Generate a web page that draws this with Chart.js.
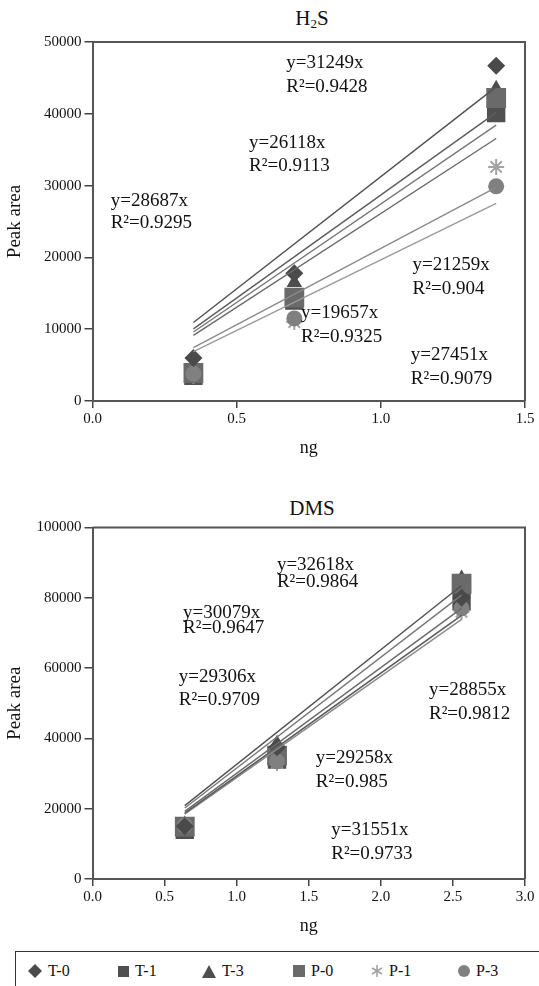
<!DOCTYPE html>
<html>
<head>
<meta charset="utf-8">
<script src="https://cdn.jsdelivr.net/npm/chart.js@4.4.0/dist/chart.umd.min.js"></script>
<style>
  body { margin: 0; background: #fff; width: 539px; height: 986px; position: relative; overflow: hidden; font-family: 'Liberation Serif', 'Times New Roman', serif; color: #111; }
  .panel { position: absolute; left: 0; }
  .ptitle { position: absolute; left: 252px; width: 120px; text-align: center; font-size: 21px; line-height: 24px; }
  .ptitle sub { font-size: 13px; vertical-align: -3px; line-height: 0; }
  .legend { position: absolute; left: 15px; top: 951px; width: 540px; height: 40px; border-top: 1.5px solid #333; border-left: 1.5px solid #333; }
  .lg-item { position: absolute; top: 8px; height: 22px; display: flex; align-items: center; font-size: 16px; }
  .lg-item svg { margin-right: 6px; }
</style>
</head>
<body>

<div class="ptitle" style="top:6px">H<sub>2</sub>S</div>
<div class="panel" style="top:0"><canvas id="h2s-chart" width="539" height="461"></canvas></div>

<div class="ptitle" style="top:496px">DMS</div>
<div class="panel" style="top:488px"><canvas id="dms-chart" width="539" height="451"></canvas></div>

<div class="legend" id="legend"></div>

<script>
// ─── Data ─────────────────────────────────────────────────────
const seriesNames = ['T-0', 'T-1', 'T-3', 'P-0', 'P-1', 'P-3'];

// H2S: amount injected (ng) and peak areas
const h2sX  = [0.35, 0.7, 1.4];
const h2sT0 = [6000, 17800, 46700];
const h2sT1 = [3500, 14000, 40100];
const h2sT3 = [4800, 16500, 43500];
const h2sP0 = [3900, 14400, 42200];
const h2sP1 = [3500, 11000, 32600];
const h2sP3 = [3800, 11500, 29900];
const h2sSlopes = [31249, 26118, 28687, 21259, 19657, 27451];
const h2sR2     = ['0.9428', '0.9113', '0.9295', '0.904', '0.9325', '0.9079'];

// DMS
const dmsX  = [0.64, 1.28, 2.56];
const dmsT0 = [15000, 37500, 80000];
const dmsT1 = [14000, 34000, 79000];
const dmsT3 = [15500, 38500, 85500];
const dmsP0 = [14900, 35100, 84000];
const dmsP1 = [14500, 33000, 76000];
const dmsP3 = [15200, 33500, 77000];
const dmsSlopes = [32618, 30079, 29306, 28855, 29258, 31551];
const dmsR2     = ['0.9864', '0.9647', '0.9709', '0.9812', '0.985', '0.9733'];

// ─── Styling / layout ─────────────────────────────────────────
const FONT = "'Liberation Serif', 'Times New Roman', serif";
const markerStyles = [
  { pointStyle: 'rectRot',  radius: 9,  color: '#4a4a4a', order: 1 },
  { pointStyle: 'rect',     radius: 13, color: '#505050', order: 6 },
  { pointStyle: 'triangle', radius: 9,  color: '#4e4e4e', order: 4 },
  { pointStyle: 'rect',     radius: 14, color: '#6a6a6a', order: 3 },
  { pointStyle: 'star',     radius: 8,  color: '#a3a3a3', order: 5 },
  { pointStyle: 'circle',   radius: 8,  color: '#808080', order: 2 },
];
const trendColors = ['#505050', '#6a6a6a', '#5c5c5c', '#8a8a8a', '#9a9a9a', '#777777'];

// label anchors in data units: [x, y of equation line, y of R² line]
const h2sLabelPos = [[0.672, 47080, 43750], [0.543, 35970, 32780], [0.063, 27920, 24720],
                     [1.110, 18890, 15560], [0.723, 12220, 8890], [1.104, 6390, 3060]];
const dmsLabelPos = [[1.279, 89350, 84630], [0.628, 75660, 71410], [0.598, 57460, 50950],
                     [2.334, 53690, 46900], [1.549, 34450, 27550], [1.656, 13870, 7080]];

// ─── Plugins ──────────────────────────────────────────────────
const framePlugin = {
  id: 'frame',
  afterDatasetsDraw(chart) {
    const { ctx, chartArea: a } = chart;
    ctx.save();
    ctx.strokeStyle = '#555';
    ctx.lineWidth = 2;
    ctx.beginPath();
    ctx.moveTo(a.left, a.top);
    ctx.lineTo(a.right, a.top);
    ctx.lineTo(a.right, a.bottom);
    ctx.stroke();
    ctx.restore();
  }
};

const fitLabelPlugin = {
  id: 'fitLabels',
  afterDatasetsDraw(chart, args, opts) {
    const { ctx, scales: { x, y } } = chart;
    ctx.save();
    ctx.font = '19px ' + FONT;
    ctx.fillStyle = '#111';
    ctx.textBaseline = 'middle';
    ctx.textAlign = 'left';
    opts.items.forEach(it => ctx.fillText(it.text, x.getPixelForValue(it.x), y.getPixelForValue(it.y)));
    ctx.restore();
  }
};

// ─── Builders ─────────────────────────────────────────────────
function buildDatasets(xs, seriesValues, slopes) {
  const sets = [];
  slopes.forEach((s, i) => {
    const x0 = xs[0], x1 = xs[xs.length - 1];
    sets.push({
      label: 'fit ' + i,
      data: [{ x: x0, y: s * x0 }, { x: x1, y: s * x1 }],
      showLine: true,
      borderColor: trendColors[i],
      borderWidth: 1.4,
      pointRadius: 0,
      order: 0,
    });
  });
  seriesValues.forEach((vals, i) => {
    const st = markerStyles[i];
    sets.push({
      label: seriesNames[i],
      data: vals.map((v, j) => ({ x: xs[j], y: v })),
      pointStyle: st.pointStyle,
      pointRadius: st.radius,
      backgroundColor: st.color,
      borderColor: st.color,
      borderWidth: st.pointStyle === 'star' ? 2 : 0,
      order: st.order,
    });
  });
  return sets;
}

function buildLabels(slopes, r2, pos) {
  const items = [];
  slopes.forEach((s, i) => {
    items.push({ text: 'y=' + s + 'x', x: pos[i][0], y: pos[i][1] });
    items.push({ text: 'R\u00B2=' + r2[i], x: pos[i][0], y: pos[i][2] });
  });
  return items;
}

function buildChart(canvasId, xs, seriesValues, slopes, r2, pos, xMax, yMax, yStep, topPad) {
  const ctx = document.getElementById(canvasId).getContext('2d');
  return new Chart(ctx, {
    type: 'scatter',
    data: { datasets: buildDatasets(xs, seriesValues, slopes) },
    plugins: [framePlugin, fitLabelPlugin],
    options: {
      responsive: false,
      animation: false,
      layout: { padding: { top: topPad, right: 10, left: 0, bottom: 0 } },
      plugins: {
        legend: { display: false },
        tooltip: { enabled: false },
        fitLabels: { items: buildLabels(slopes, r2, pos) },
      },
      scales: {
        x: {
          type: 'linear',
          min: 0, max: xMax,
          ticks: { stepSize: 0.5, padding: 2, color: '#111', font: { family: FONT, size: 15 }, maxRotation: 0,
                   callback: v => v.toFixed(1) },
          grid: { drawOnChartArea: false, tickLength: 7, color: '#444', lineWidth: 1.5 },
          border: { color: '#555', width: 2 },
          title: { display: true, text: 'ng', color: '#111', font: { family: FONT, size: 18, lineHeight: 1.2 },
                   padding: { top: 0, bottom: 2 } },
          afterFit: s => { s.height = 60; },
        },
        y: {
          min: 0, max: yMax,
          ticks: { stepSize: yStep, padding: 3, color: '#111', font: { family: FONT, size: 15 },
                   callback: v => String(v) },
          grid: { drawOnChartArea: false, tickLength: 8, color: '#444', lineWidth: 1.5 },
          border: { color: '#555', width: 2 },
          title: { display: true, text: 'Peak area', color: '#111', font: { family: FONT, size: 19, lineHeight: 1.2 },
                   padding: { top: 4, bottom: 0 } },
          afterFit: s => { s.width = 92.5; },
        },
      },
    },
  });
}

buildChart('h2s-chart', h2sX, [h2sT0, h2sT1, h2sT3, h2sP0, h2sP1, h2sP3],
           h2sSlopes, h2sR2, h2sLabelPos, 1.5, 50000, 10000, 42);
buildChart('dms-chart', dmsX, [dmsT0, dmsT1, dmsT3, dmsP0, dmsP1, dmsP3],
           dmsSlopes, dmsR2, dmsLabelPos, 3.0, 100000, 20000, 39.5);

// ─── Legend ───────────────────────────────────────────────────
const legendIcons = [
  '<svg width="14" height="14"><polygon points="7,0 14,7 7,14 0,7" fill="#4a4a4a"/></svg>',
  '<svg width="11" height="11"><rect width="11" height="11" fill="#505050"/></svg>',
  '<svg width="14" height="13"><polygon points="7,0 14,13 0,13" fill="#4e4e4e"/></svg>',
  '<svg width="12" height="12"><rect width="12" height="12" fill="#6a6a6a"/></svg>',
  '<svg width="12" height="12" stroke="#a3a3a3" stroke-width="1.6"><line x1="6" y1="0" x2="6" y2="12"/><line x1="1" y1="3" x2="11" y2="9"/><line x1="1" y1="9" x2="11" y2="3"/></svg>',
  '<svg width="12" height="12"><circle cx="6" cy="6" r="6" fill="#808080"/></svg>',
];
const legendLeft = [12, 102, 186, 277, 355, 442];
const legend = document.getElementById('legend');
seriesNames.forEach((name, i) => {
  const item = document.createElement('div');
  item.className = 'lg-item';
  item.style.left = legendLeft[i] + 'px';
  item.innerHTML = legendIcons[i] + '<span>' + name + '</span>';
  legend.appendChild(item);
});
</script>
</body>
</html>
